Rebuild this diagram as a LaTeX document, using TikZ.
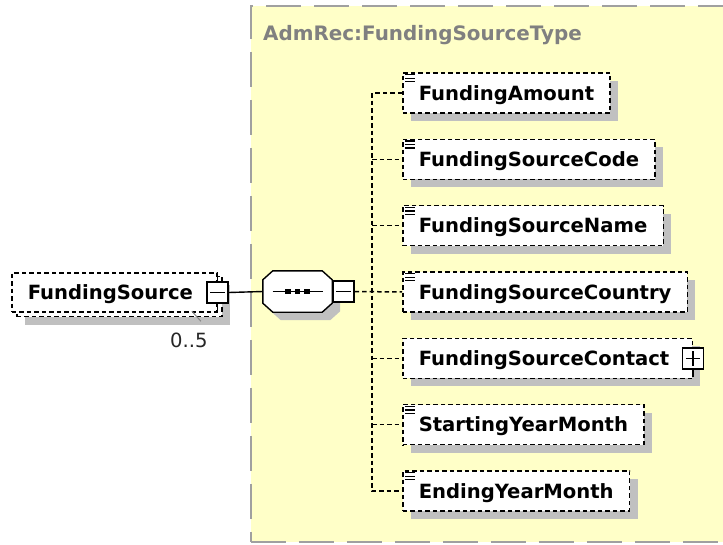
\documentclass[tikz,border=0pt]{standalone}
\usepackage{fontspec}
\setmainfont{DejaVu Sans}
\usepackage{xcolor}
\definecolor{typefill}{RGB}{255,255,200}
\definecolor{typeline}{RGB}{160,160,160}
\definecolor{shadowgrey}{RGB}{192,192,192}
\definecolor{titlegrey}{RGB}{128,128,128}
\usepackage{tikz}
\usetikzlibrary{positioning,calc,shadows}
\tikzset{
  typebox/.style={draw=typeline, fill=typefill, line width=1.5pt,
    dash pattern=on 35pt off 13pt, inner sep=0pt, anchor=north west},
  elembox/.style={draw, fill=white, line width=1.5pt,
    dash pattern=on 4.5pt off 3pt,
    minimum height=40pt, inner xsep=16pt, inner ysep=0pt, anchor=west,
    text height=14.3pt, text depth=0pt,
    font=\fontsize{19.6}{22}\selectfont\bfseries},
  dropgrey/.style={drop shadow={shadow xshift=8pt, shadow yshift=-8pt,
    fill=shadowgrey, opacity=1}},
  btnbox/.style={draw, fill=white, line width=1.4pt, minimum size=21pt,
    inner sep=0pt},
  seqbox/.style={minimum width=69pt, minimum height=41pt, inner sep=0pt},
  octpath/.style={insert path={([xshift=10pt]#1.north west)
    -- ([xshift=-10pt]#1.north east) -- ([yshift=-9pt]#1.north east)
    -- ([yshift=9pt]#1.south east) -- ([xshift=-10pt]#1.south east)
    -- ([xshift=10pt]#1.south west) -- ([yshift=9pt]#1.south west)
    -- ([yshift=-9pt]#1.north west) -- cycle}},
  conn/.style={line width=1.5pt, dash pattern=on 4.5pt off 3pt},
}

\begin{document}
\begin{tikzpicture}[x=1pt,y=-1pt]
\useasboundingbox (0,0) rectangle (723,544);

% complex type
\node[typebox, minimum width=477pt, minimum height=536pt] (type) at (250,5) {};
\node[anchor=base west, inner sep=0pt, text=titlegrey,
      font=\fontsize{19.9}{22}\selectfont\bfseries] (title) at (263,40)
  {AdmRec:FundingSourceType};

% FundingSource, 0..5
\node[elembox, dropgrey] (srcback) at (16,296.5)
  {\phantom{FundingSource}\rule{8pt}{0pt}};
\node[elembox, minimum height=39pt] (src) at (11,292.5)
  {FundingSource\rule{8pt}{0pt}};
\node[btnbox] (srcbtn) at (src.east) {};
\draw[line width=1.4pt] ([xshift=4pt]srcbtn.west) -- ([xshift=-4pt]srcbtn.east);
\draw[line width=1.4pt] (srcbtn.north) -- ++(0,-6);
\draw[line width=1.4pt] (srcbtn.south) -- ++(0,6);
\node[anchor=base west, inner sep=0pt, text=black!85,
      font=\fontsize{19.6}{22}\selectfont] (occ) at (170,347) {0..5};
\draw[shadowgrey!70!black, line width=1pt]
  ([shift={(3,-21)}]occ.north) -- ([shift={(12,-11)}]occ.north);

% sequence
\node[seqbox] (seq) at (297.5,291.5) {};
\fill[shadowgrey, transform canvas={shift={(8pt,-8pt)}}] [octpath=seq];
\filldraw[fill=white, line width=1.4pt] [octpath=seq];
\draw[line width=1.4pt] ([xshift=-25pt]seq.center) -- ([xshift=25pt]seq.center);
\foreach \d in {-9.5,0,9.5}
  \fill ([xshift=\d pt]seq.center) +(-2.75,-2.75) rectangle +(2.75,2.75);
\node[btnbox, anchor=west] (seqbtn) at (seq.east) {};
\draw[line width=1.4pt] ([xshift=4pt]seqbtn.west) -- ([xshift=-4pt]seqbtn.east);
\draw[line width=1.4pt] (srcbtn.east) -- (seq.west);

% children
\foreach \i/\name in {1/FundingAmount,2/FundingSourceCode,3/FundingSourceName,
    4/FundingSourceCountry,6/StartingYearMonth,7/EndingYearMonth}{
  \node[elembox, dropgrey] (c\i) at (402,{26.67+66.33*\i}) {\name};
  \foreach \k in {2.5,6,9.5}
    \draw[line width=1.3pt] ([xshift=3pt,yshift=-\k pt]c\i.north west) -- ++(10,0);
}
\node[elembox, dropgrey] (c5) at (402,{26.67+66.33*5})
  {FundingSourceContact\rule{7pt}{0pt}};
\node[btnbox] (c5btn) at (c5.east) {};
\draw[line width=1.4pt] ([xshift=4pt]c5btn.west) -- ([xshift=-4pt]c5btn.east);
\draw[line width=1.4pt] ([yshift=-4pt]c5btn.north) -- ([yshift=4pt]c5btn.south);
\draw[line width=1.4pt] (c5btn.south) -- ++(0,7);

% connectors
\coordinate (bus) at (372,0);
\draw[conn] (c1.west) -- (c1.west -| bus) -- (c7.west -| bus) -- (c7.west);
\foreach \i in {2,3,5,6}
  \draw[conn] (c\i.west -| bus) -- (c\i.west);
\draw[conn] (seqbtn.east) -- (c4.west);
\end{tikzpicture}
\end{document}
